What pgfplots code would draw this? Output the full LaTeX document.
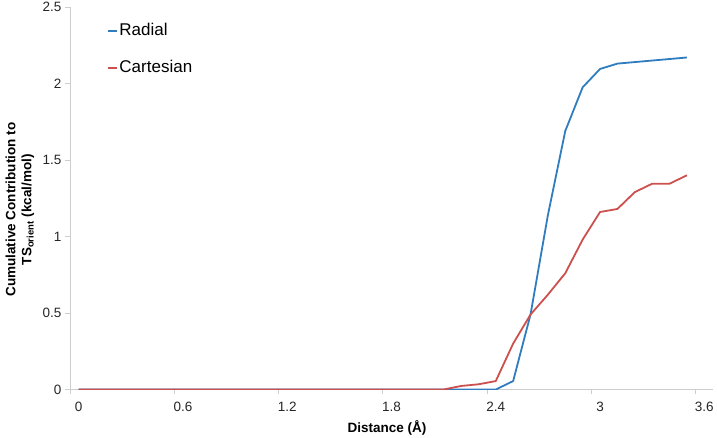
\documentclass[border=0pt]{standalone}
\usepackage{fontspec}
\setmainfont{Liberation Sans}
\usepackage{pgfplots}
\pgfplotsset{compat=1.18}
\definecolor{radial}{RGB}{47,125,190}
\definecolor{cart}{RGB}{204,80,77}
\definecolor{axgray}{RGB}{205,205,205}

\begin{document}
\begin{tikzpicture}
\begin{axis}[
  name=ax,
  scale only axis,
  width=643pt, height=382.5pt,
  xmin=-0.05, xmax=3.65, ymin=0, ymax=2.5,
  axis x line*=bottom, axis y line*=left,
  axis line style={axgray, line width=0.8pt},
  xtick={0,0.6,1.2,1.8,2.4,3.0,3.6},
  xticklabels={0,0.6,1.2,1.8,2.4,3,3.6},
  minor xtick={-0.05,0.55,1.15,1.75,2.35,2.95,3.55},
  major x tick style={draw=none},
  minor x tick style={axgray, line width=0.8pt},
  ytick={0,0.5,1,1.5,2,2.5},
  yticklabels={0,0.5,1,1.5,2,2.5},
  y tick style={axgray, line width=0.8pt},
  tick align=outside,
  major tick length=5pt, minor tick length=5pt,
  ticklabel style={font=\fontsize{13.5}{16}\selectfont, text=black!85},
  xticklabel style={yshift=-4pt},
  xlabel={Distance (Å)},
  xlabel style={at={(rel axis cs:0.493,0)}, anchor=center, yshift=-38.5pt,
    font=\bfseries\fontsize{13.5}{16}\selectfont},
  ylabel={Cumulative Contribution to\\TS\textsubscript{orient} (kcal/mol)},
  ylabel style={at={(rel axis cs:-0.0778,0.47)}, anchor=center, align=center,
    font=\bfseries\fontsize{13.5}{16}\selectfont},
  legend style={draw=none, fill=none, at={(rel axis cs:0.053,0.963)}, anchor=north west,
    font=\fontsize{17}{20}\selectfont, row sep=21pt,
    nodes={inner sep=1pt, text height=11pt, text depth=3pt}},
  legend cell align=left,
  legend image code/.code={\draw[#1, line width=2.2pt] (0pt,0pt) -- (9pt,0pt);},
  every axis plot/.append style={line width=1.8pt, line join=round},
]
\addplot[radial, no markers] coordinates {
  (0.0,0) (0.1,0) (0.2,0) (0.3,0) (0.4,0) (0.5,0) (0.6,0) (0.7,0) (0.8,0) (0.9,0)
  (1.0,0) (1.1,0) (1.2,0) (1.3,0) (1.4,0) (1.5,0) (1.6,0) (1.7,0) (1.8,0) (1.9,0)
  (2.0,0) (2.1,0) (2.2,0) (2.3,0) (2.4,0)
  (2.5,0.055) (2.6,0.49) (2.7,1.14) (2.8,1.69) (2.9,1.975) (3.0,2.095)
  (3.1,2.13) (3.2,2.14) (3.3,2.15) (3.4,2.16) (3.5,2.17)
};
\addlegendentry{Radial}
\addplot[cart, no markers] coordinates {
  (0.0,0) (0.1,0) (0.2,0) (0.3,0) (0.4,0) (0.5,0) (0.6,0) (0.7,0) (0.8,0) (0.9,0)
  (1.0,0) (1.1,0) (1.2,0) (1.3,0) (1.4,0) (1.5,0) (1.6,0) (1.7,0) (1.8,0) (1.9,0)
  (2.0,0) (2.1,0) (2.2,0.023) (2.3,0.034) (2.4,0.055)
  (2.5,0.30) (2.6,0.49) (2.7,0.62) (2.8,0.76) (2.9,0.98) (3.0,1.16)
  (3.1,1.18) (3.2,1.29) (3.3,1.345) (3.4,1.345) (3.5,1.40)
};
\addlegendentry{Cartesian}
\end{axis}
\pgfresetboundingbox
\path[use as bounding box] ([xshift=-70pt,yshift=-48.5pt]ax.south west) rectangle ++(717pt,438pt);
\end{tikzpicture}
\end{document}
